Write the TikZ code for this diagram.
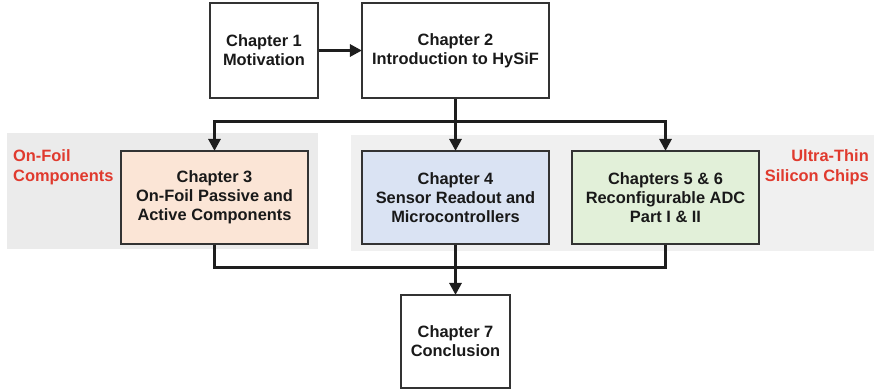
\documentclass[tikz,border=0pt]{standalone}
\usepackage{fontspec}
\setmainfont{Liberation Sans}
\usetikzlibrary{arrows.meta}
\definecolor{peach}{HTML}{FBE5D6}
\definecolor{lblue}{HTML}{DAE3F3}
\definecolor{lgreen}{HTML}{E2F0D9}
\definecolor{bgleft}{HTML}{EBEBEB}
\definecolor{bgright}{HTML}{F0F0F0}
\definecolor{labred}{HTML}{E03A2E}
\definecolor{edge}{HTML}{333333}
\definecolor{conn}{HTML}{1E1E1E}
\tikzset{
  chapbox/.style={draw=edge, line width=1.2pt, rectangle, align=center, inner sep=0pt,
    font=\fontsize{16.4}{19}\selectfont\bfseries, text=black!90},
  grplabel/.style={inner sep=0pt, text=labred, font=\fontsize{16.4}{20}\selectfont\bfseries},
  conline/.style={draw=conn, line width=3pt},
  conarrow/.style={conline, -{Triangle[width=12pt,length=12pt]}, shorten >=-0.5pt}
}
\begin{document}
\begin{tikzpicture}[x=1pt,y=-1pt]
\useasboundingbox (0,0) rectangle (874,389);
% background groups
\fill[bgleft] (7,133) rectangle (318,249);
\fill[bgright] (351,135) rectangle (874,251);
% boxes
\node[chapbox, minimum width=108pt, minimum height=95pt] (c1) at (264,50.5) {Chapter 1\\Motivation};
\node[chapbox, minimum width=187pt, minimum height=95pt] (c2) at (455.5,50.5) {Chapter 2\\Introduction to HySiF};
\node[chapbox, fill=peach, minimum width=187pt, minimum height=93pt] (c3) at (214.5,197.5) {Chapter 3\\On-Foil Passive and\\Active Components};
\node[chapbox, fill=lblue, minimum width=187pt, minimum height=93pt] (c4) at (455.5,197.5) {Chapter 4\\Sensor Readout and\\Microcontrollers};
\node[chapbox, fill=lgreen, minimum width=187pt, minimum height=93pt] (c5) at (665.5,197.5) {Chapters 5 \& 6\\Reconfigurable ADC\\Part I \& II};
\node[chapbox, minimum width=109pt, minimum height=93pt] (c7) at (455.5,341.5) {Chapter 7\\Conclusion};
% labels
\node[grplabel, anchor=west, align=left] (lfoil) at (13,167) {On-Foil\\Components};
\node[grplabel, anchor=east, align=right] (lsi) at (869,167) {Ultra-Thin\\Silicon Chips};
% connectors
\coordinate (split) at (455.5,121);
\coordinate (merge) at (455.5,267);
\draw[conarrow] (c1.east) -- (c2.west);
\draw[conline] (c2.south) -- (split);
\draw[conarrow] (split) -- (c4.north);
\draw[conarrow] (split) -| (c3.north);
\draw[conarrow] (split) -| (c5.north);
\draw[conline] (c3.south) |- (merge);
\draw[conline] (c5.south) |- (merge);
\draw[conarrow] (c4.south) -- (c7.north);
\end{tikzpicture}
\end{document}
